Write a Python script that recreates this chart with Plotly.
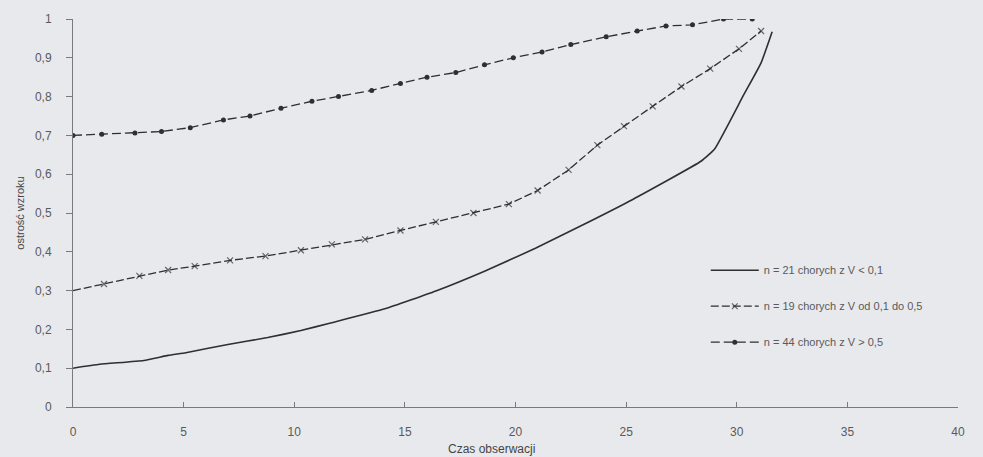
import plotly.graph_objects as go

# --- data ---
x_low = [0, 1.2, 3.2, 4.3, 5.1, 7.0, 8.8, 10.3, 11.6, 14.1, 16.4, 18.6, 20.9, 23.1, 25.3, 28.4, 29.0, 30.3, 31.1, 31.6]
y_low = [0.10, 0.11, 0.12, 0.133, 0.14, 0.161, 0.179, 0.197, 0.216, 0.253, 0.299, 0.350, 0.409, 0.471, 0.535, 0.634, 0.665, 0.803, 0.887, 0.967]

x_mid = [0, 1.4, 3.0, 4.3, 5.5, 7.1, 8.7, 10.3, 11.7, 13.2, 14.8, 16.4, 18.1, 19.7, 21.0, 22.4, 23.7, 24.9, 26.2, 27.5, 28.8, 30.1, 31.1]
y_mid = [0.30, 0.317, 0.338, 0.353, 0.363, 0.378, 0.389, 0.404, 0.419, 0.432, 0.455, 0.477, 0.500, 0.523, 0.558, 0.611, 0.675, 0.724, 0.775, 0.826, 0.872, 0.923, 0.969]

x_high = [0, 1.3, 2.8, 4.0, 5.3, 6.8, 8.0, 9.4, 10.8, 12.0, 13.5, 14.8, 16.0, 17.3, 18.6, 19.9, 21.2, 22.5, 24.1, 25.5, 26.8, 28.0, 29.4, 30.7]
y_high = [0.70, 0.703, 0.706, 0.71, 0.72, 0.74, 0.75, 0.77, 0.788, 0.80, 0.816, 0.834, 0.85, 0.862, 0.882, 0.90, 0.915, 0.934, 0.954, 0.969, 0.982, 0.985, 1.0, 1.0]

names = ["n = 21 chorych z V < 0,1",
         "n = 19 chorych z V od 0,1 do 0,5",
         "n = 44 chorych z V > 0,5"]

y_tickvals = [0, 0.1, 0.2, 0.3, 0.4, 0.5, 0.6, 0.7, 0.8, 0.9, 1]
y_ticktext = ["0", "0,1", "0,2", "0,3", "0,4", "0,5", "0,6", "0,7", "0,8", "0,9", "1"]
x_tickvals = [0, 5, 10, 15, 20, 25, 30, 35, 40]

INK = "#2f2f2f"
TXT = "#5a5a5a"
BG = "#e8e9ed"
FONT = "Liberation Sans, Arial, sans-serif"

fig = go.Figure()
fig.add_trace(go.Scatter(
    x=x_low, y=y_low, mode="lines", name=names[0], legendgroup="a",
    line=dict(color=INK, width=1.6, shape="spline", smoothing=0.4),
))
fig.add_trace(go.Scatter(
    x=x_mid, y=y_mid, mode="lines+markers", name=names[1], legendgroup="b",
    line=dict(color=INK, width=1.3, dash="8px,3px"),
    marker=dict(symbol="x-thin", size=[0] + [6] * (len(x_mid) - 1),
                line=dict(color=INK, width=1.2), color=INK),
))
fig.add_trace(go.Scatter(
    x=x_high, y=y_high, mode="lines+markers", name=names[2], legendgroup="c",
    line=dict(color=INK, width=1.3, dash="9px,4px"),
    marker=dict(symbol="circle", size=5, color=INK),
))

fig.update_layout(
    width=983, height=457,
    margin=dict(l=73, r=25, t=16, b=50),
    paper_bgcolor=BG, plot_bgcolor=BG,
    font=dict(family=FONT, color=TXT, size=12),
    showlegend=True,
    legend=dict(x=0.715, y=0.39, xanchor="left", yanchor="top",
                bgcolor="rgba(0,0,0,0)", font=dict(size=11, color=TXT),
                traceorder="grouped", tracegroupgap=17, itemwidth=48),
    xaxis=dict(range=[0, 40], tickvals=x_tickvals, showgrid=False, zeroline=False,
               showline=True, linecolor="#7a7a7a", linewidth=1,
               ticks="inside", ticklen=5, tickcolor="#7a7a7a",
               ticklabelstandoff=14, tickfont=dict(size=12, color=TXT)),
    yaxis=dict(range=[0, 1.0], tickvals=y_tickvals, ticktext=y_ticktext,
               showgrid=False, zeroline=False,
               showline=True, linecolor="#7a7a7a", linewidth=1,
               ticks="outside", ticklen=6, tickcolor="#7a7a7a",
               ticklabelstandoff=12, tickfont=dict(size=12, color=TXT),
               title=dict(text="ostrość wzroku", font=dict(size=11, color="#444"), standoff=8)),
    annotations=[dict(text="Czas obserwacji", x=18.9, xref="x", y=-0.107, yref="paper",
                      showarrow=False, yanchor="middle",
                      font=dict(size=12, color="#444"))],
)

fig.write_html("out.html", config={"displayModeBar": False},
               post_script="document.body.style.margin='0';")
